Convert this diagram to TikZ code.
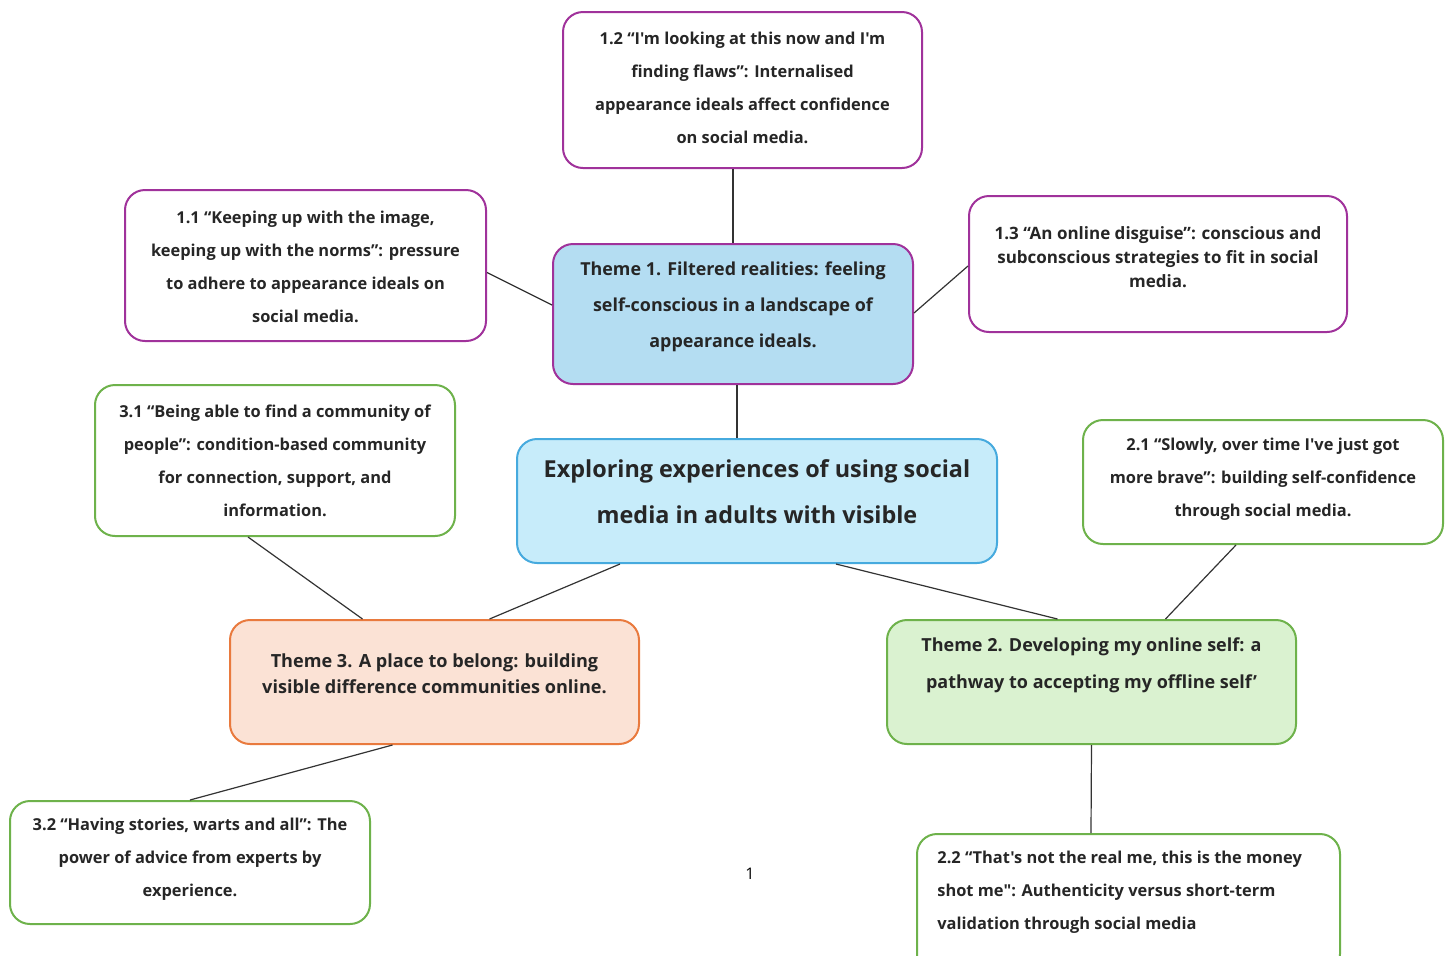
\documentclass[tikz,border=0pt]{standalone}
\usepackage{fontspec}
\setmainfont{Open Sans}[Ligatures=TeXOff]
\definecolor{purp}{RGB}{160,50,155}
\definecolor{grn}{RGB}{110,178,75}
\definecolor{blu}{RGB}{70,170,222}
\definecolor{orng}{RGB}{233,122,62}
\definecolor{tonefill}{RGB}{180,221,242}
\definecolor{cenfill}{RGB}{199,236,250}
\definecolor{ttwofill}{RGB}{218,242,208}
\definecolor{tthreefill}{RGB}{251,226,213}
\tikzset{
  boxshape/.style={draw, line width=1pt, rounded corners=10pt, fill=white, inner sep=0pt},
  subtext/.style={font=\fontsize{8.2}{16.5}\selectfont\bfseries, align=center, inner sep=0pt, text=black!85},
  link/.style={draw=black!80, line width=0.6pt},
}
\begin{document}
\begin{tikzpicture}[x=0.5pt,y=-0.5pt]
\clip (0,0) rectangle (1447,955);
\fill[white] (0,0) rectangle (1447,955);

% boxes
\node[boxshape, draw=purp, minimum width=179.5pt, minimum height=78pt] (b12) at (742.5,90) {};
\node[boxshape, draw=purp, minimum width=180.5pt, minimum height=75.5pt] (b11) at (305.5,265.5) {};
\node[boxshape, draw=purp, minimum width=189pt, minimum height=68pt] (b13) at (1158,264) {};
\node[boxshape, draw=purp, fill=tonefill, minimum width=180pt, minimum height=70pt] (t1) at (733,314) {};
\node[boxshape, draw=blu, fill=cenfill, minimum width=240pt, minimum height=62pt] (cen) at (757,501) {};
\node[boxshape, draw=grn, minimum width=180pt, minimum height=75.5pt] (b31) at (275,460.5) {};
\node[boxshape, draw=grn, minimum width=180pt, minimum height=62pt] (b21) at (1263,482) {};
\node[boxshape, draw=orng, fill=tthreefill, minimum width=204.5pt, minimum height=62pt] (t3) at (434.5,682) {};
\node[boxshape, draw=grn, fill=ttwofill, minimum width=204.5pt, minimum height=62pt] (t2) at (1091.5,682) {};
\node[boxshape, draw=grn, minimum width=180pt, minimum height=61.5pt] (b32) at (190,862.5) {};
\node[boxshape, draw=grn, minimum width=211.5pt, minimum height=70pt] (b22) at (1128.5,904) {};

% texts
\node[subtext] (b12t) at (742.5,88) {1.2 “I'm looking at this now and I'm\\finding flaws”: Internalised\\appearance ideals affect confidence\\on social media.};
\node[subtext] (b11t) at (305.5,267) {1.1 “Keeping up with the image,\\keeping up with the norms”: pressure\\to adhere to appearance ideals on\\social media.};
\node[subtext, font=\fontsize{8.5}{12}\selectfont\bfseries] (b13t) at (1158,257) {1.3 “An online disguise”: conscious and\\subconscious strategies to fit in social\\media.};
\node[subtext, font=\fontsize{8.95}{18}\selectfont\bfseries] (t1t) at (733,307) {Theme 1. Filtered realities: feeling\\self-conscious in a landscape of\\appearance ideals.};
\node[subtext, font=\fontsize{11.7}{23}\selectfont\bfseries] (cent) at (757,492) {Exploring experiences of using social\\media in adults with visible};
\node[subtext] (b31t) at (275,461) {3.1 “Being able to find a community of\\people”: condition-based community\\for connection, support, and\\information.};
\node[subtext] (b21t) at (1263,479) {2.1 “Slowly, over time I've just got\\more brave”: building self-confidence\\through social media.};
\node[subtext, font=\fontsize{9.05}{13}\selectfont\bfseries] (t3t) at (434.5,674) {Theme 3. A place to belong: building\\visible difference communities online.};
\node[subtext, font=\fontsize{9}{18.5}\selectfont\bfseries] (t2t) at (1091.5,665) {Theme 2. Developing my online self: a\\pathway to accepting my offline self’};
\node[subtext] (b32t) at (190,859) {3.2 “Having stories, warts and all”: The\\power of advice from experts by\\experience.};
\node[subtext, align=left, anchor=west] (b22t) at (937,892) {2.2 “That's not the real me, this is the money\\shot me": Authenticity versus short-term\\validation through social media};
\node[font=\fontsize{8}{10}\selectfont, inner sep=0pt] (pg) at (750,874) {1};

% connectors
\draw[link] ([xshift=-4.75pt]b12.south) -- (t1.north);
\draw[link] ([yshift=-3.5pt]b11.east) -- ([yshift=4.5pt]t1.west);
\draw[link] ([yshift=-1pt]b13.west) -- ([yshift=0.5pt]t1.east);
\draw[link] ([xshift=2pt]t1.south) -- ([xshift=-10pt]cen.north);
\draw[link] ([xshift=-68.5pt]cen.south) -- ([xshift=27.5pt]t3.north);
\draw[link] ([xshift=-13.5pt]b31.south) -- ([xshift=-36pt]t3.north);
\draw[link] ([xshift=39.5pt]cen.south) -- ([xshift=-17pt]t2.north);
\draw[link] ([xshift=-13.5pt]b21.south) -- ([xshift=37pt]t2.north);
\draw[link] ([xshift=-21pt]t3.south) -- (b32.north);
\draw[link] (t2.south) -- ([xshift=-18.75pt]b22.north);
\end{tikzpicture}
\end{document}
